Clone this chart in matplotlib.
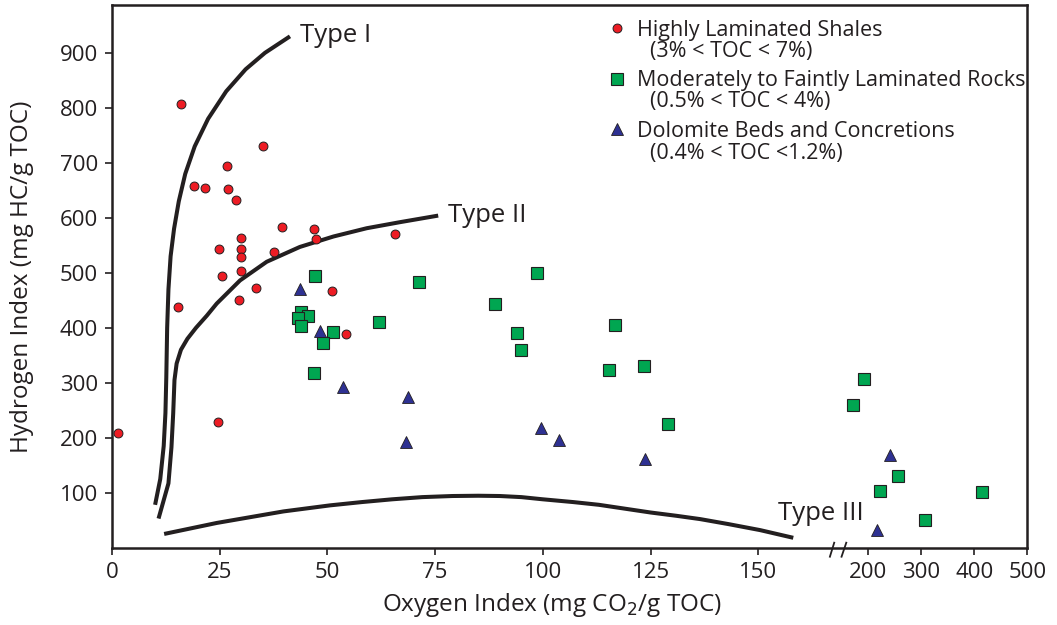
import numpy as np
import matplotlib
matplotlib.use("Agg")
import matplotlib.pyplot as plt
from matplotlib.lines import Line2D

# ---------------- data ----------------
shale_oi = [15.9, 35.0, 26.8, 19.1, 21.5, 27.0, 28.8, 39.5, 46.8, 47.4, 65.7, 29.9, 24.8,
            29.9, 29.9, 37.7, 29.9, 25.6, 33.4, 51.1, 29.4, 15.4, 54.2, 24.6, 1.5]
shale_hi = [807, 730, 695, 657, 654, 652, 632, 584, 580, 562, 571, 564, 544,
            544, 529, 537, 504, 495, 473, 467, 450, 438, 388, 228, 209]

rock_oi = [47.0, 71.2, 98.7, 88.8, 43.9, 45.4, 43.2, 43.8, 61.9, 51.2, 49.0, 93.9, 94.8,
           116.8, 115.3, 123.4, 46.8, 129.1, 192, 172, 256, 223, 415, 307]
rock_hi = [494, 483, 499, 444, 429, 421, 417, 404, 410, 392, 373, 391, 359,
           405, 323, 330, 317, 225, 306, 260, 131, 104, 101, 50]

dolo_oi = [43.6, 48.3, 53.7, 68.7, 68.3, 99.6, 103.7, 123.7, 242, 216]
dolo_hi = [470, 395, 292, 274, 192, 217, 195, 162, 168, 33]

type1_oi = [10.0, 11.2, 12.0, 12.4, 12.6, 12.8, 13.1, 13.6, 14.4, 15.5, 17.0, 19.2,
            22.3, 26.5, 31.0, 35.5, 41.3]
type1_hi = [78, 125, 185, 245, 310, 400, 470, 530, 580, 630, 680, 730,
            780, 830, 870, 900, 930]

type2_oi = [10.8, 13.1, 13.8, 14.2, 14.5, 15.0, 16.0, 17.5, 19.5, 22.0, 24.3, 29.7,
            35.9, 43.6, 51.4, 59.1, 66.8, 75.7]
type2_hi = [53, 117, 183, 244, 305, 335, 360, 380, 400, 422, 444, 486,
            520, 547, 566, 581, 592, 604]

type3_oi = [12.1, 24.3, 39.8, 50.6, 58, 65, 72, 79, 85, 90, 95, 100, 107, 113, 119, 125,
            131, 136.5, 143, 150.4, 158.1]
type3_hi = [25, 45, 66, 77, 83, 88, 92, 94, 94.5, 94, 92, 88, 83, 78, 71, 64,
            58, 52, 43, 32, 18]

x_ticks = [0, 25, 50, 75, 100, 125, 150, 200, 300, 400, 500]
y_ticks = [100, 200, 300, 400, 500, 600, 700, 800, 900]

legend_labels = ["Highly Laminated Shales", "Moderately to Faintly Laminated Rocks",
                 "Dolomite Beds and Concretions"]
legend_sub = ["(3% < TOC < 7%)", "(0.5% < TOC < 4%)", "(0.4% < TOC <1.2%)"]

# ---------------- style ----------------
FONT = ["Open Sans", "DejaVu Sans"]
plt.rcParams["font.family"] = FONT
INK = "#231f20"
RED, GREEN, BLUE = "#ed1c24", "#00a651", "#2e3192"

# broken x scale: linear to 172, compressed beyond
BRK, RATIO = 172.0, 0.1232
def fwd(x):
    x = np.asarray(x, dtype=float)
    return np.where(x <= BRK, x, BRK + (x - BRK) * RATIO)
def inv(u):
    u = np.asarray(u, dtype=float)
    return np.where(u <= BRK, u, BRK + (u - BRK) / RATIO)

W, H = 1057, 625
fig = plt.figure(figsize=(W / 100, H / 100), dpi=100)
ax = fig.add_axes([112 / W, 1 - 547.7 / H, (1027.3 - 112) / W, (547.7 - 5) / H])
ax.set_xscale("function", functions=(fwd, inv))
ax.set_xlim(0, 500)
ax.set_ylim(0, 987)

for s in ax.spines.values():
    s.set_color(INK)
    s.set_linewidth(1.8)

ax.set_xticks(x_ticks)
ax.set_xticklabels([str(t) for t in x_ticks])
ax.set_yticks(y_ticks)
ax.set_yticklabels([str(t) for t in y_ticks])
ax.minorticks_off()
ax.tick_params(direction="out", length=5, width=1.2, color=INK, labelsize=16,
               labelcolor=INK)
ax.tick_params(axis="x", pad=5)
ax.tick_params(axis="y", pad=5)

# curves
lw = 2.9
for cx, cy in [(type1_oi, type1_hi), (type2_oi, type2_hi), (type3_oi, type3_hi)]:
    ax.plot(cx, cy, color=INK, lw=lw, solid_capstyle="butt", solid_joinstyle="round",
            zorder=2)

ax.text(43.6, 932, "Type I", fontsize=18.5, color=INK, va="center", ha="left")
ax.text(78.0, 604, "Type II", fontsize=18.5, color=INK, va="center", ha="left")
ax.text(154.6, 63, "Type III", fontsize=18.5, color=INK, va="center", ha="left")

# points
ax.plot(shale_oi, shale_hi, ls="none", marker="o", ms=6.4, mfc=RED, mec=INK, mew=0.7, zorder=4)
ax.plot(rock_oi, rock_hi, ls="none", marker="s", ms=8, mfc=GREEN, mec=INK, mew=0.8, zorder=3)
ax.plot(dolo_oi, dolo_hi, ls="none", marker="^", ms=8.5, mfc=BLUE, mec=INK, mew=0.6, zorder=3)

# axis break marks
tr = ax.get_xaxis_transform()
for x0, x1 in [(166.6, 167.6), (169.3, 170.4)]:
    ax.plot([x0, x1], [-0.0166, 0.0092], transform=tr, color=INK, lw=1.3,
            clip_on=False, zorder=5)

# labels
ax.set_xlabel("Oxygen Index (mg CO$_2$/g TOC)", fontsize=17.5, color=INK, va="center")
ax.xaxis.set_label_coords((552 - 112) / 915.3, (547.7 - 605) / 542.7)
ax.set_ylabel("Hydrogen Index (mg HC/g TOC)", fontsize=17.5, color=INK, va="center")
ax.yaxis.set_label_coords((22 - 112) / 915.3, (547.7 - 277) / 542.7)

# legend
handles = [
    Line2D([], [], ls="none", marker="o", ms=6.4, mfc=RED, mec=INK, mew=0.7),
    Line2D([], [], ls="none", marker="s", ms=8, mfc=GREEN, mec=INK, mew=0.8),
    Line2D([], [], ls="none", marker="^", ms=8.5, mfc=BLUE, mec=INK, mew=0.6),
]
leg = ax.legend(handles, legend_labels, loc="upper left",
                bbox_to_anchor=(608 / W, 1 - 20 / H), bbox_transform=fig.transFigure,
                frameon=False, fontsize=15.5, handlelength=0.8, handletextpad=0.55,
                labelspacing=1.37, borderpad=0, borderaxespad=0)
for t in leg.get_texts():
    t.set_color(INK)
for txt, yp in zip(legend_sub, [51, 102, 153]):
    fig.text(650 / W, 1 - yp / H, txt, fontsize=15.5, color=INK, va="center", ha="left")

fig.savefig("out.png", dpi=100)
